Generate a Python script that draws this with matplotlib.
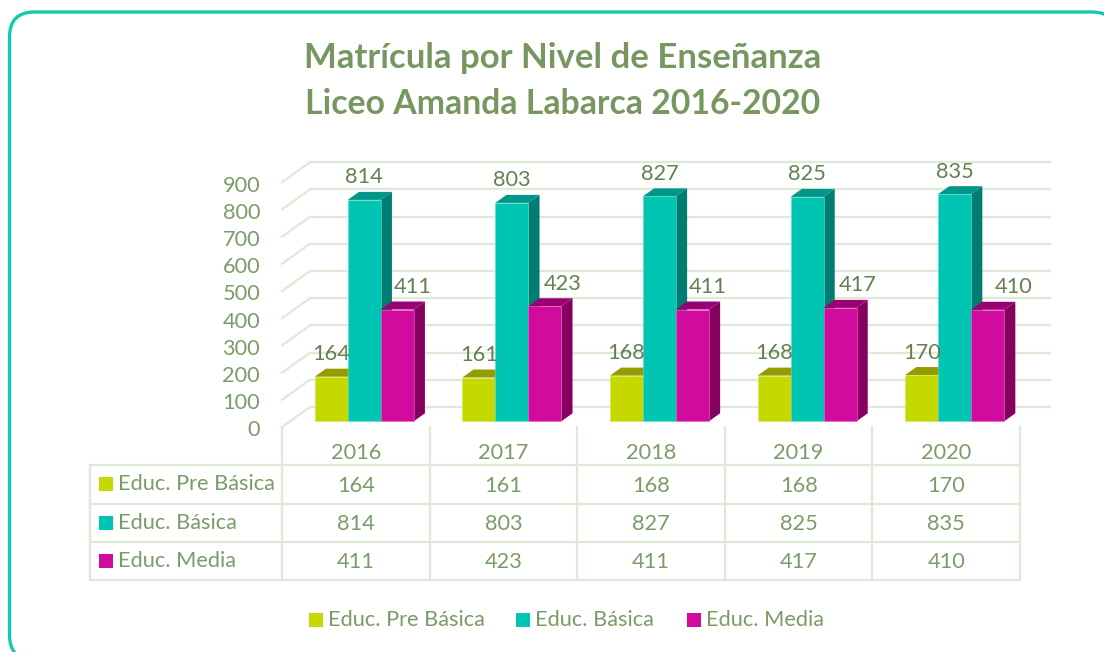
import matplotlib
matplotlib.use("Agg")
import matplotlib.pyplot as plt
from matplotlib.patches import FancyBboxPatch, Polygon, Rectangle

plt.rcParams["font.family"] = ["Lato", "DejaVu Sans"]

# data <<<
years = ["2016", "2017", "2018", "2019", "2020"]
series_names = ["Educ. Pre Básica", "Educ. Básica", "Educ. Media"]
pre_basica = [164, 161, 168, 168, 170]
basica = [814, 803, 827, 825, 835]
media = [411, 423, 411, 417, 410]
y_ticks = [0, 100, 200, 300, 400, 500, 600, 700, 800, 900]
# label nudges (px), the media labels were moved by hand in the original
media_label_shift = [15, 18, 15, 18, 26]
# >>>

series = [pre_basica, basica, media]
front_cols = ["#c5d800", "#00c5b2", "#d10b9e"]
edge_cols = ["#d8e64d", "#5fdccf", "#e36cc4"]
top_cols = ["#959c00", "#009688", "#9a0073"]
side_cols = ["#7f8600", "#007d70", "#85005f"]
grid_col = "#dfe9d7"
text_col = "#7a9c68"
label_col = "#64804f"
title_col = "#76975f"
font_size = 15.7

W, H = 1104, 652
fig = plt.figure(figsize=(W / 100, H / 100), dpi=100)

# overlay in pixels for frame, title, table <<<
bg = fig.add_axes([0, 0, 1, 1])
bg.set_xlim(0, W)
bg.set_ylim(H, 0)
bg.axis("off")
bg.add_patch(FancyBboxPatch((9.5, 12), 1107.5, 648, boxstyle="round,pad=0,rounding_size=25",
                            fc="white", ec="#14c8b2", lw=2.4))
bg.text(563, 58, "Matrícula por Nivel de Enseñanza", ha="center", va="center",
        fontsize=25, fontweight="bold", color=title_col)
bg.text(563, 104, "Liceo Amanda Labarca 2016-2020", ha="center", va="center",
        fontsize=24.3, fontweight="bold", color=title_col)
# >>>

# chart axes, the front edge of the floor is y=0 <<<
x0, x1 = 282, 1020
y_zero, px_per_unit = 427, 0.272
y_top = y_zero - 900 * px_per_unit
ax = fig.add_axes([x0 / W, 1 - y_zero / H, (x1 - x0) / W, (y_zero - y_top) / H])
ax.set_xlim(0, 5)
ax.set_ylim(0, 900)
ax.axis("off")
ax.patch.set_alpha(0)

px_per_cat = (x1 - x0) / 5
wall_dx, wall_dy = 28 / px_per_cat, 20 / px_per_unit


def deep(x, y, d):
    return x + d * wall_dx, y + d * wall_dy


# gridlines on the side wall and back wall
grid_end = (1049.5 - x0) / px_per_cat
for t in y_ticks:
    xa, ya = deep(0, t, 1)
    ax.plot([0, xa], [t, ya], color=grid_col, lw=1.6, clip_on=False, zorder=1)
    ax.plot([xa, grid_end], [ya, ya], color=grid_col, lw=1.6, clip_on=False, zorder=1)
    bg.text(260, y_zero - t * px_per_unit + 3.5, str(t), ha="right", va="center",
            fontsize=font_size, color=text_col)

bar_w = 0.2236
bar_nudge = 0.003
bar_d0, bar_d1 = 0.285, 0.685
z = 2
for i in range(len(years)):
    for s, values in enumerate(series):
        v = values[i]
        left = i + 0.5 + bar_nudge + (s - 1.5) * bar_w
        right = left + bar_w
        xl, yb = deep(left, 0, bar_d0)
        xr = deep(right, 0, bar_d0)[0]
        yt = deep(left, v, bar_d0)[1]
        xl2, yt2 = deep(left, v, bar_d1)
        xr2, yb2 = deep(right, 0, bar_d1)
        ax.add_patch(Polygon([(xr, yb), (xr2, yb2), (xr2, yt2), (xr, yt)], fc=side_cols[s], ec="none",
                             clip_on=False, zorder=z))
        ax.add_patch(Polygon([(xl, yt), (xr, yt), (xr2, yt2), (xl2, yt2)], fc=top_cols[s], ec="none",
                             clip_on=False, zorder=z))
        ax.bar(xl, yt - yb, bar_w, bottom=yb, align="edge", color=front_cols[s],
               edgecolor=edge_cols[s], linewidth=0.4, clip_on=False, zorder=z + 1)
        z += 2

for s, values in enumerate(series):
    for i, v in enumerate(values):
        shift = media_label_shift[i] if s == 2 else 0
        cx = i + 0.5 + bar_nudge + (s - 1) * bar_w
        lx, ly = deep(cx, v, bar_d0)
        ax.annotate(str(v), (lx, ly), xytext=(shift * 0.72, 22.5 * 0.72), textcoords="offset points",
                    ha="center", va="center", fontsize=font_size, color=label_col, zorder=100,
                    annotation_clip=False)
# >>>

# data table <<<
col_edges = [x0 + k * px_per_cat for k in range(len(years) + 1)]
row_edges = [465, 503.5, 542, 580]
for ye in row_edges:
    bg.plot([90, x1], [ye, ye], color=grid_col, lw=1.6)
bg.plot([90, 90], [row_edges[0], row_edges[-1]], color=grid_col, lw=1.6)
for xe in col_edges:
    bg.plot([xe, xe], [y_zero, row_edges[-1]], color=grid_col, lw=1.6)
for i, yr in enumerate(years):
    bg.text((col_edges[i] + col_edges[i + 1]) / 2, 453, yr, ha="center", va="center",
            fontsize=font_size, color=text_col)
for s, name in enumerate(series_names):
    yc = (row_edges[s] + row_edges[s + 1]) / 2
    bg.add_patch(Rectangle((99, yc - 7), 14, 14, fc=front_cols[s], ec="none"))
    bg.text(118, yc, name, ha="left", va="center", fontsize=font_size, color=text_col)
    for i, v in enumerate(series[s]):
        bg.text((col_edges[i] + col_edges[i + 1]) / 2, yc + 1.5, str(v), ha="center", va="center",
                fontsize=font_size, color=text_col)
# >>>

# legend <<<
legend_x = [309, 516, 687]
for s, name in enumerate(series_names):
    bg.add_patch(Rectangle((legend_x[s], 613), 14, 14, fc=front_cols[s], ec="none"))
    bg.text(legend_x[s] + 19, 620.5, name, ha="left", va="center", fontsize=font_size, color=text_col)
# >>>

fig.savefig("out.png", dpi=100)
